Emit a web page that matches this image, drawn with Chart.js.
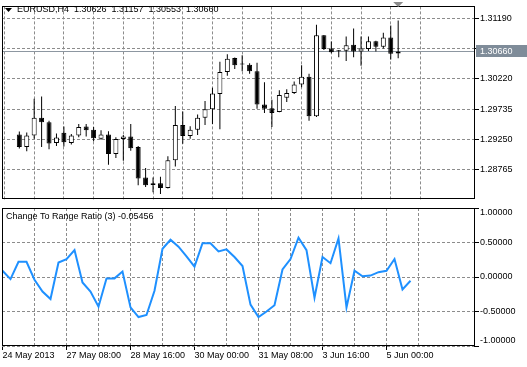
<!DOCTYPE html>
<html lang="en">
<head>
<meta charset="UTF-8">
<title>EURUSD,H4</title>
<style>
  body { margin: 0; background: #fff; }
  #wrap { position: relative; width: 527px; height: 367px; overflow: hidden; }
  #priceChart { position: absolute; left: 0; top: 0; }
  #ratioChart { position: absolute; left: 0; top: 206px; }
</style>
</head>
<body>
<div id="wrap">
  <canvas id="priceChart" width="527" height="206"></canvas>
  <canvas id="ratioChart" width="527" height="161"></canvas>
</div>
<script src="https://cdn.jsdelivr.net/npm/chart.js"></script>
<script>
// EURUSD H4 bars, first one = 24 May 2013 00:00
const opens = [1.29331, 1.29130, 1.29312, 1.29599, 1.29524, 1.29195, 1.29357, 1.29195, 1.29312, 1.29457,
    1.29407, 1.29260, 1.29331, 1.29018, 1.29256, 1.29297, 1.29130, 1.28640, 1.28549, 1.28549,
    1.28473, 1.28918, 1.29483, 1.29306, 1.29407, 1.29599, 1.29735, 1.29977, 1.30330, 1.30557,
    1.30466, 1.30446, 1.30341, 1.29811, 1.29750, 1.29690, 1.29917, 1.29993, 1.30129, 1.30254,
    1.29623, 1.30920, 1.30708, 1.30672, 1.30673, 1.30769, 1.30658, 1.30698, 1.30825, 1.30734,
    1.30885, 1.30626];
const highs = [1.29377, 1.29362, 1.29902, 1.29937, 1.29548, 1.29346, 1.29457, 1.29336, 1.29498, 1.29498,
    1.29448, 1.29396, 1.29381, 1.29286, 1.29321, 1.29498, 1.29145, 1.28791, 1.28640, 1.28651,
    1.28979, 1.29785, 1.29699, 1.29463, 1.29649, 1.29865, 1.30077, 1.30496, 1.30617, 1.30562,
    1.30598, 1.30471, 1.30481, 1.30168, 1.29887, 1.30038, 1.30053, 1.30179, 1.30440, 1.30304,
    1.31086, 1.30925, 1.30819, 1.30682, 1.30900, 1.31026, 1.30900, 1.30900, 1.30830, 1.30961,
    1.31076, 1.31157];
const lows = [1.29104, 1.29059, 1.29260, 1.29130, 1.29094, 1.29145, 1.29135, 1.29169, 1.29286, 1.29298,
    1.29221, 1.29245, 1.28843, 1.28953, 1.28908, 1.29070, 1.28514, 1.28489, 1.28404, 1.28374,
    1.28464, 1.28817, 1.29180, 1.29260, 1.29321, 1.29483, 1.29498, 1.29412, 1.30269, 1.30380,
    1.30341, 1.30304, 1.29740, 1.29675, 1.29448, 1.29684, 1.29850, 1.29977, 1.30088, 1.29548,
    1.29610, 1.30682, 1.30632, 1.30567, 1.30507, 1.30567, 1.30431, 1.30667, 1.30658, 1.30708,
    1.30531, 1.30553];
const closes = [1.29130, 1.29312, 1.29599, 1.29524, 1.29185, 1.29281, 1.29206, 1.29312, 1.29448, 1.29396,
    1.29271, 1.29331, 1.29018, 1.29256, 1.29297, 1.29109, 1.28625, 1.28514, 1.28519, 1.28473,
    1.28918, 1.29483, 1.29306, 1.29407, 1.29599, 1.29735, 1.29986, 1.30330, 1.30542, 1.30440,
    1.30451, 1.30341, 1.29811, 1.29740, 1.29675, 1.29962, 1.29993, 1.30129, 1.30254, 1.29623,
    1.30920, 1.30698, 1.30648, 1.30662, 1.30758, 1.30658, 1.30708, 1.30825, 1.30734, 1.30885,
    1.30622, 1.30660];

// Change To Range Ratio (3)
const ratio = [0.09, -0.03, 0.22, 0.22, -0.04, -0.21, -0.32, 0.21, 0.26, 0.39,
    -0.08, -0.21, -0.43, -0.02, -0.02, 0.08, -0.44, -0.58, -0.55, -0.20,
    0.41, 0.54, 0.44, 0.30, 0.15, 0.49, 0.49, 0.37, 0.40, 0.29,
    0.16, -0.40, -0.58, -0.50, -0.41, 0.11, 0.26, 0.57, 0.39, -0.30,
    0.29, 0.20, 0.56, -0.44, 0.09, 0.01, 0.02, 0.07, 0.09, 0.26,
    -0.18, -0.05456];

const priceTicks = [1.28765, 1.29250, 1.29735, 1.30220, 1.30705, 1.31190];
const ratioTicks = [-1, -0.5, 0, 0.5, 1];
const timeLabels = ['24 May 2013', '27 May 08:00', '28 May 16:00', '30 May 00:00',
    '31 May 08:00', '3 Jun 16:00', '5 Jun 00:00'];
const gridBars = [0, 4, 8, 12, 16, 20, 24, 28, 32, 36, 40, 44, 48, 52, 56];

const FONT = { family: "'Liberation Sans', Arial, sans-serif", size: 9 };
const GRID = '#8c8c8c';
const X_MIN = -0.0625, X_MAX = 58.9375;
const last = closes.length - 1;

Chart.defaults.font = FONT;
Chart.defaults.color = '#000';

function xScale(showLabels) {
    return {
        type: 'linear', min: X_MIN, max: X_MAX,
        afterBuildTicks: s => { s.ticks = gridBars.map(v => ({ value: v })); },
        afterFit: s => { s.height = showLabels ? 21 : 0; },
        border: { display: false, dash: [3, 2] },
        grid: {
            color: GRID, drawTicks: showLabels, tickLength: 4,
            tickColor: c => (c.tick && c.tick.value % 8 === 0) ? '#000' : 'rgba(0,0,0,0)',
            tickBorderDash: []
        },
        ticks: {
            display: showLabels, autoSkip: false, maxRotation: 0, align: 'start', padding: 0,
            callback: v => v % 8 === 0 ? timeLabels[v / 8] : ''
        }
    };
}

// black frame around the plot area
const framePlugin = {
    id: 'frame',
    afterDraw(chart) {
        const a = chart.chartArea, ctx = chart.ctx;
        ctx.save();
        ctx.strokeStyle = '#000';
        ctx.lineWidth = 1;
        ctx.setLineDash([]);
        ctx.strokeRect(Math.floor(a.left) + 0.5, Math.floor(a.top) + 0.5,
            Math.round(a.right - a.left), Math.round(a.bottom - a.top) - 1);
        ctx.restore();
    }
};

const pricePlugin = {
    id: 'priceDeco',
    beforeDatasetsDraw(chart) {
        // bid line
        const a = chart.chartArea, ctx = chart.ctx;
        const y = Math.round(chart.scales.y.getPixelForValue(closes[last])) + 0.5;
        ctx.save();
        ctx.strokeStyle = '#8d97a1';
        ctx.lineWidth = 1;
        ctx.beginPath();
        ctx.moveTo(a.left, y);
        ctx.lineTo(a.right, y);
        ctx.stroke();
        ctx.restore();
    },
    afterDraw(chart) {
        const a = chart.chartArea, ctx = chart.ctx;
        const y = Math.round(chart.scales.y.getPixelForValue(closes[last]));
        ctx.save();
        // current price box on the axis
        ctx.fillStyle = '#7f8c99';
        ctx.fillRect(a.right + 2, y - 6, chart.width - a.right - 2, 12);
        ctx.fillStyle = '#fff';
        ctx.font = "9px 'Liberation Sans', Arial, sans-serif";
        ctx.textBaseline = 'middle';
        ctx.fillText(closes[last].toFixed(5), a.right + 6, y + 0.5);
        // title
        ctx.fillStyle = '#000';
        ctx.beginPath();
        ctx.moveTo(5, 8); ctx.lineTo(12, 8); ctx.lineTo(8.5, 12); ctx.closePath();
        ctx.fill();
        ctx.fillText('EURUSD,H4  ' + [opens[last], highs[last], lows[last], closes[last]]
            .map(v => v.toFixed(5)).join('  '), 17, 10);
        // shift marker
        const sx = chart.scales.x.getPixelForValue(last);
        ctx.fillStyle = '#8c8c8c';
        ctx.beginPath();
        ctx.moveTo(sx - 5, 2); ctx.lineTo(sx + 5, 2); ctx.lineTo(sx, 7); ctx.closePath();
        ctx.fill();
        ctx.restore();
    }
};

new Chart(document.getElementById('priceChart'), {
    type: 'bar',
    data: {
        datasets: [{
            label: 'body',
            order: 1,
            data: opens.map((o, i) => ({ x: i, y: [o, closes[i]] })),
            backgroundColor: opens.map((o, i) => closes[i] >= o ? '#fff' : '#000'),
            borderColor: '#000',
            borderWidth: 1,
            borderSkipped: false,
            inflateAmount: 0,
            minBarLength: 1,
            barThickness: 5,
            grouped: false,
            clip: false
        }, {
            label: 'wick',
            order: 2,
            data: lows.map((l, i) => ({ x: i, y: [l, highs[i]] })),
            backgroundColor: '#000',
            borderWidth: 0,
            inflateAmount: 0,
            barThickness: 1,
            grouped: false,
            clip: false
        }]
    },
    options: {
        responsive: false,
        animation: false,
        devicePixelRatio: 1,
        layout: { padding: { left: 2, top: 0, right: 0, bottom: 1 } },
        plugins: { legend: { display: false }, tooltip: { enabled: false } },
        scales: {
            x: xScale(false),
            y: {
                position: 'right', min: 1.28286, max: 1.31382,
                afterBuildTicks: s => { s.ticks = priceTicks.map(v => ({ value: v })); },
                afterFit: s => { s.width = 53; },
                border: { display: false, dash: [3, 2] },
                grid: { color: GRID, tickColor: '#000', tickLength: 5, tickBorderDash: [] },
                ticks: { padding: 1, callback: v => v.toFixed(5) }
            }
        }
    },
    plugins: [framePlugin, pricePlugin]
});

const ratioPlugin = {
    id: 'ratioDeco',
    afterDraw(chart) {
        const a = chart.chartArea, ctx = chart.ctx, ys = chart.scales.y;
        ctx.save();
        ctx.fillStyle = '#000';
        ctx.font = "9px 'Liberation Sans', Arial, sans-serif";
        ctx.textBaseline = 'middle';
        ctx.fillText('Change To Range Ratio (3) ' + ratio[last].toFixed(5), 6, a.top + 8.5);
        ratioTicks.forEach(v => {
            const y = Math.min(Math.max(ys.getPixelForValue(v), a.top + 5), a.bottom - 5);
            ctx.fillText(v.toFixed(5), a.right + 6, y);
        });
        ctx.restore();
    }
};

new Chart(document.getElementById('ratioChart'), {
    type: 'line',
    data: {
        datasets: [{
            label: 'Change To Range Ratio (3)',
            data: ratio.map((v, i) => ({ x: i, y: v })),
            borderColor: '#1e90ff',
            borderWidth: 2,
            pointRadius: 0,
            tension: 0,
            fill: false
        }]
    },
    options: {
        responsive: false,
        animation: false,
        devicePixelRatio: 1,
        layout: { padding: { left: 2, top: 2, right: 0, bottom: 0 } },
        plugins: { legend: { display: false }, tooltip: { enabled: false } },
        scales: {
            x: xScale(true),
            y: {
                position: 'right', min: -1, max: 1,
                afterBuildTicks: s => { s.ticks = ratioTicks.map(v => ({ value: v })); },
                afterFit: s => { s.width = 53; },
                border: { display: false, dash: [3, 2] },
                grid: { color: GRID, tickColor: '#000', tickLength: 5, tickBorderDash: [] },
                ticks: { display: false }
            }
        }
    },
    plugins: [framePlugin, ratioPlugin]
});
</script>
</body>
</html>
